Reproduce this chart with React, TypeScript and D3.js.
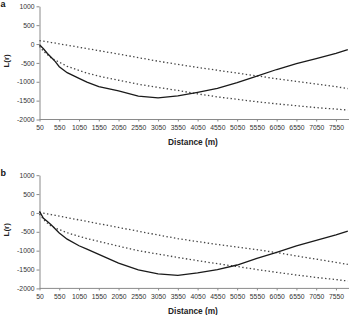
import React, { useRef, useEffect } from "react";
import { select, scaleLinear, axisLeft, axisBottom, line } from "d3";

const distance = [50, 150, 250, 350, 450, 550, 750, 1050, 1250, 1550, 2050, 2550, 3050, 3550, 4050, 4550, 5050, 5550, 6050, 6550, 7050, 7550, 7850];

// panel a
const observedA = [-20, -125, -250, -355, -465, -600, -760, -910, -1010, -1130, -1240, -1380, -1425, -1375, -1280, -1175, -1025, -850, -675, -520, -385, -250, -150];
const upperA = [90, 75, 60, 40, 25, 5, -30, -85, -120, -175, -265, -360, -455, -540, -620, -695, -770, -845, -920, -990, -1060, -1130, -1180];
const lowerA = [-60, -190, -280, -370, -430, -480, -590, -700, -770, -850, -960, -1065, -1150, -1230, -1320, -1400, -1465, -1530, -1585, -1635, -1685, -1725, -1750];

// panel b
const observedB = [40, -140, -225, -320, -425, -530, -695, -870, -960, -1100, -1330, -1510, -1615, -1655, -1590, -1500, -1380, -1205, -1045, -875, -725, -580, -485];
const upperB = [15, -5, -25, -45, -65, -85, -125, -185, -225, -285, -385, -485, -585, -680, -760, -835, -905, -975, -1050, -1140, -1225, -1310, -1365];
const lowerB = [-30, -170, -270, -350, -400, -440, -525, -620, -680, -755, -880, -1000, -1090, -1180, -1265, -1345, -1420, -1500, -1575, -1645, -1710, -1765, -1805];

const yTicks = [-2000, -1500, -1000, -500, 0, 500, 1000];
const xTicks = [50, 550, 1050, 1550, 2050, 2550, 3050, 3550, 4050, 4550, 5050, 5550, 6050, 6550, 7050, 7550];

const FONT = "'Liberation Sans', Arial, sans-serif";
const H = 113.2;

function Panel({ letter, top, observed, upper, lower }) {
  const gRef = useRef(null);

  useEffect(() => {
    const g = select(gRef.current);
    g.selectAll("*").remove();

    const x = scaleLinear().domain([50, 7880]).range([39.5, 349]);
    const y = scaleLinear().domain([-2000, 1000]).range([H, 0]);

    const yaxis = axisLeft(y).tickValues(yTicks).tickFormat(d => String(d)).tickSize(3).tickSizeOuter(0).tickPadding(2);
    const xaxis = axisBottom(x).tickValues(xTicks).tickFormat(d => String(d)).tickSize(2).tickSizeOuter(0).tickPadding(4);

    const ya = g.append("g").attr("transform", "translate(39.5,0)").call(yaxis);
    const xa = g.append("g").attr("transform", `translate(0,${H})`).call(xaxis);
    [ya, xa].forEach(a => {
      a.select(".domain").attr("stroke", "#8a8a8a").attr("stroke-width", 1);
      a.selectAll(".tick line").attr("stroke", "#8a8a8a");
      a.selectAll(".tick text")
        .attr("font-family", FONT)
        .attr("font-size", 6.8)
        .attr("fill", "#333");
    });
    // x axis line runs to the right edge
    xa.select(".domain").attr("d", `M39.5,0H349`);

    const pts = vals => vals.map((v, i) => [distance[i], v]);
    const ln = line().x(d => x(d[0])).y(d => y(d[1]));

    g.append("path").attr("d", ln(pts(upper)))
      .attr("fill", "none").attr("stroke", "#444").attr("stroke-width", 1.3)
      .attr("stroke-dasharray", "1.4 2.4");
    g.append("path").attr("d", ln(pts(lower)))
      .attr("fill", "none").attr("stroke", "#444").attr("stroke-width", 1.3)
      .attr("stroke-dasharray", "1.4 2.4");
    g.append("path").attr("d", ln(pts(observed)))
      .attr("fill", "none").attr("stroke", "#1a1a1a").attr("stroke-width", 1.3);

    g.append("text").text("Distance (m)")
      .attr("x", 193).attr("y", 138.5)
      .attr("text-anchor", "middle")
      .attr("font-family", FONT).attr("font-weight", "bold").attr("font-size", 8.3)
      .attr("fill", "#222");

    g.append("text").text("L(r)")
      .attr("transform", `translate(9,${H / 2 - 2}) rotate(-90)`)
      .attr("text-anchor", "middle")
      .attr("font-family", FONT).attr("font-weight", "bold").attr("font-size", 8)
      .attr("fill", "#222");

    g.append("text").text(letter)
      .attr("x", 0.5).attr("y", 0.8)
      .attr("font-family", FONT).attr("font-weight", "bold").attr("font-size", 9)
      .attr("fill", "#111");
  }, [letter, observed, upper, lower]);

  return <g ref={gRef} transform={`translate(0,${top})`} />;
}

export default function App() {
  return (
    <svg width={350} height={315} style={{ position: "absolute", left: 0, top: 0, background: "#fff" }}>
      <Panel letter="a" top={6.3} observed={observedA} upper={upperA} lower={lowerA} />
      <Panel letter="b" top={175.2} observed={observedB} upper={upperB} lower={lowerB} />
    </svg>
  );
}
